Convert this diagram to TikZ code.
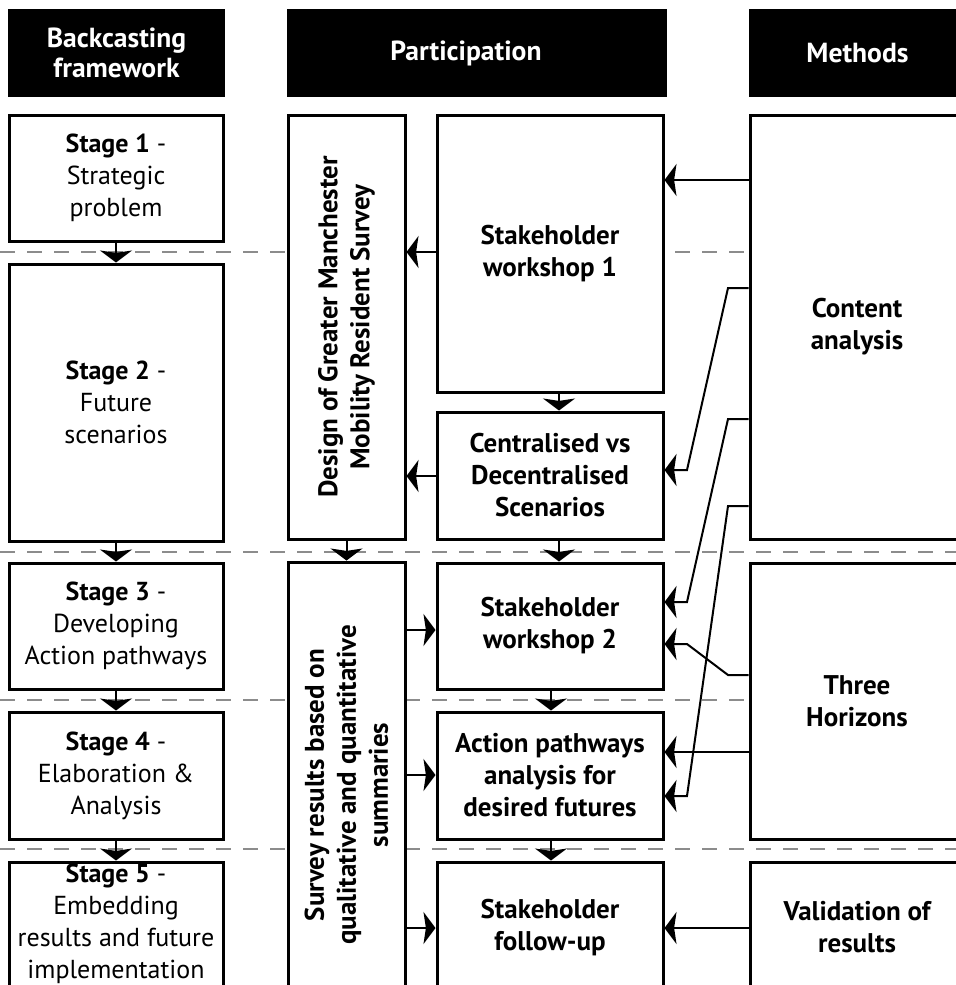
\documentclass[tikz,border=0pt]{standalone}
\usepackage{fontspec}
\setmainfont{PT Sans}
\usetikzlibrary{arrows.meta,fit}
\newcommand{\rgf}{\fontsize{13}{16}\selectfont}
\newcommand{\bdf}{\bfseries\fontsize{13.5}{16}\selectfont}
\begin{document}
\begin{tikzpicture}[x=0.5pt,y=-0.5pt,
  hdr/.style={fill=black, draw=none, inner sep=0pt},
  hdrtext/.style={text=white, align=center, inner sep=0pt,
    font=\bfseries\fontsize{13.8}{15}\selectfont},
  box/.style={draw=black, line width=1.5pt, fill=white, inner sep=0pt},
  rtext/.style={align=center, inner sep=0pt, font=\rgf},
  btext/.style={align=center, inner sep=0pt, font=\bdf},
  vtext/.style={rotate=90, align=center, inner sep=0pt, font=\bdf},
  conn/.style={line width=1pt, -{Stealth[length=6pt,width=16pt,inset=1.2pt]}},
  sepline/.style={draw=black!45, line width=1.1pt, dash pattern=on 7.5pt off 6pt}
]
\useasboundingbox (0,0) rectangle (956,985);
\clip (0,0) rectangle (956,985);

% row / column helper coordinates
\coordinate (r180) at (0,180);
\coordinate (r252) at (0,252);
\coordinate (r476) at (0,476);
\coordinate (r630) at (0,630);
\coordinate (r775) at (0,775);
\coordinate (r928) at (0,928);
\coordinate (r288) at (0,288);
\coordinate (r470) at (0,470);
\coordinate (r419) at (0,419);
\coordinate (r602) at (0,602);
\coordinate (r506) at (0,506);
\coordinate (r796) at (0,796);
\coordinate (r675) at (0,675);
\coordinate (r644) at (0,644);
\coordinate (r752) at (0,752);
\coordinate (k1) at (728,0);
\coordinate (k2) at (687,0);

% dashed separators
\coordinate (d1a) at (0,252);   \coordinate (d1b) at (956,252);
\coordinate (d2a) at (0,552);   \coordinate (d2b) at (956,552);
\coordinate (d3a) at (0,700);   \coordinate (d3b) at (956,700);
\coordinate (d4a) at (0,849);   \coordinate (d4b) at (956,849);
\draw[sepline] (d1a) -- (d1b);
\draw[sepline] (d2a) -- (d2b);
\draw[sepline] (d3a) -- (d3b);
\draw[sepline] (d4a) -- (d4b);

% headers
\node[hdr, fit={(8,9) (225,97)}] (h1) {};
\node[hdrtext] (h1t) at (h1.center) {Backcasting\\framework};
\node[hdr, fit={(287,9) (667,97)}] (h2) {};
\node[hdrtext] (h2t) at ([xshift=-5.5pt]h2.center) {Participation};
\node[hdr, fit={(749,9) (966,97)}] (h3) {};
\node[hdrtext] (h3t) at (h3.center) {Methods};

% backcasting stages
\node[box, fit={(9,115) (223,241)}] (s1) {};
\node[rtext] (s1t) at (s1.center) {\textbf{Stage 1} -\\Strategic\\problem};
\node[box, fit={(9,264) (223,541)}] (s2) {};
\node[rtext] (s2t) at (s2.center) {\textbf{Stage 2} -\\Future\\scenarios};
\node[box, fit={(9,563) (223,689)}] (s3) {};
\node[rtext] (s3t) at (s3.center) {\textbf{Stage 3} -\\Developing\\Action pathways};
\node[box, fit={(9,712) (223,839)}] (s4) {};
\node[rtext] (s4t) at (s4.center) {\textbf{Stage 4} -\\Elaboration \&\\Analysis};
\node[box, fit={(9,862) (223,991)}] (s5) {};
\node[rtext] (s5t) at ([yshift=1.5pt]s5.center) {\textbf{Stage 5} -\\Embedding\\results and future\\implementation};

% survey column
\node[box, fit={(288,115) (405,539)}] (des) {};
\node[vtext] (dest) at (des.center) {Design of Greater Manchester\\Mobility Resident Survey};
\node[box, fit={(288,562) (405,1008)}] (sur) {};
\node[vtext] (surt) at (sur.center) {Survey results based on\\qualitative and quantitative\\summaries};

% participation column
\node[box, fit={(437,115) (663,392)}] (ws1) {};
\node[btext] (ws1t) at (ws1.center) {Stakeholder\\workshop 1};
\node[box, fit={(437,412) (663,539)}] (cen) {};
\node[btext] (cent) at (cen.center) {Centralised vs\\Decentralised\\Scenarios};
\node[box, fit={(437,563) (663,689)}] (ws2) {};
\node[btext] (ws2t) at (ws2.center) {Stakeholder\\workshop 2};
\node[box, fit={(437,712) (663,839)}] (act) {};
\node[btext] (actt) at (act.center) {Action pathways\\analysis for\\desired futures};
\node[box, fit={(437,862) (663,994)}] (fol) {};
\node[btext] (folt) at (fol.center) {Stakeholder\\follow-up};

% methods column
\node[box, fit={(750,115) (964,539)}] (ca) {};
\node[btext] (cat) at (ca.center) {Content\\analysis};
\node[box, fit={(750,563) (964,839)}] (th) {};
\node[btext] (tht) at (th.center) {Three\\Horizons};
\node[box, fit={(750,862) (964,992)}] (val) {};
\node[btext] (valt) at (val.center) {Validation of\\results};

% vertical arrows
\draw[conn] (s1.south) -- (s2.north);
\draw[conn] (s2.south) -- (s3.north);
\draw[conn] (s3.south) -- (s4.north);
\draw[conn] (s4.south) -- (s5.north);
\draw[conn] (des.south) -- (sur.north);
\draw[conn] ([xshift=4.5pt]ws1.south) -- ([xshift=4.5pt]cen.north);
\draw[conn] ([xshift=4.5pt]cen.south) -- ([xshift=4.5pt]ws2.north);
\draw[conn] ([xshift=0.5pt]ws2.south) -- ([xshift=0.5pt]act.north);
\draw[conn] ([xshift=0.5pt]act.south) -- ([xshift=0.5pt]fol.north);

% horizontal arrows
\draw[conn] (ca.west |- r180) -- (ws1.east |- r180);
\draw[conn] (ws1.west |- r252) -- (des.east |- r252);
\draw[conn] (cen.west |- r476) -- (des.east |- r476);
\draw[conn] (sur.east |- r630) -- (ws2.west |- r630);
\draw[conn] (sur.east |- r775) -- (act.west |- r775);
\draw[conn] (sur.east |- r928) -- (fol.west |- r928);
\draw[conn] (val.west |- r928) -- (fol.east |- r928);
\draw[conn] (th.west |- r752) -- (act.east |- r752);

% slanted connectors
\draw[conn] (ca.west |- r288) -- (k1 |- r288) -- (k2 |- r470) -- (cen.east |- r470);
\draw[conn] (ca.west |- r419) -- (k1 |- r419) -- (k2 |- r602) -- (ws2.east |- r602);
\draw[conn] (ca.west |- r506) -- (k1 |- r506) -- (k2 |- r796) -- (act.east |- r796);
\draw[conn] (th.west |- r675) -- (k1 |- r675) -- (k2 |- r644) -- (ws2.east |- r644);
\end{tikzpicture}
\end{document}
